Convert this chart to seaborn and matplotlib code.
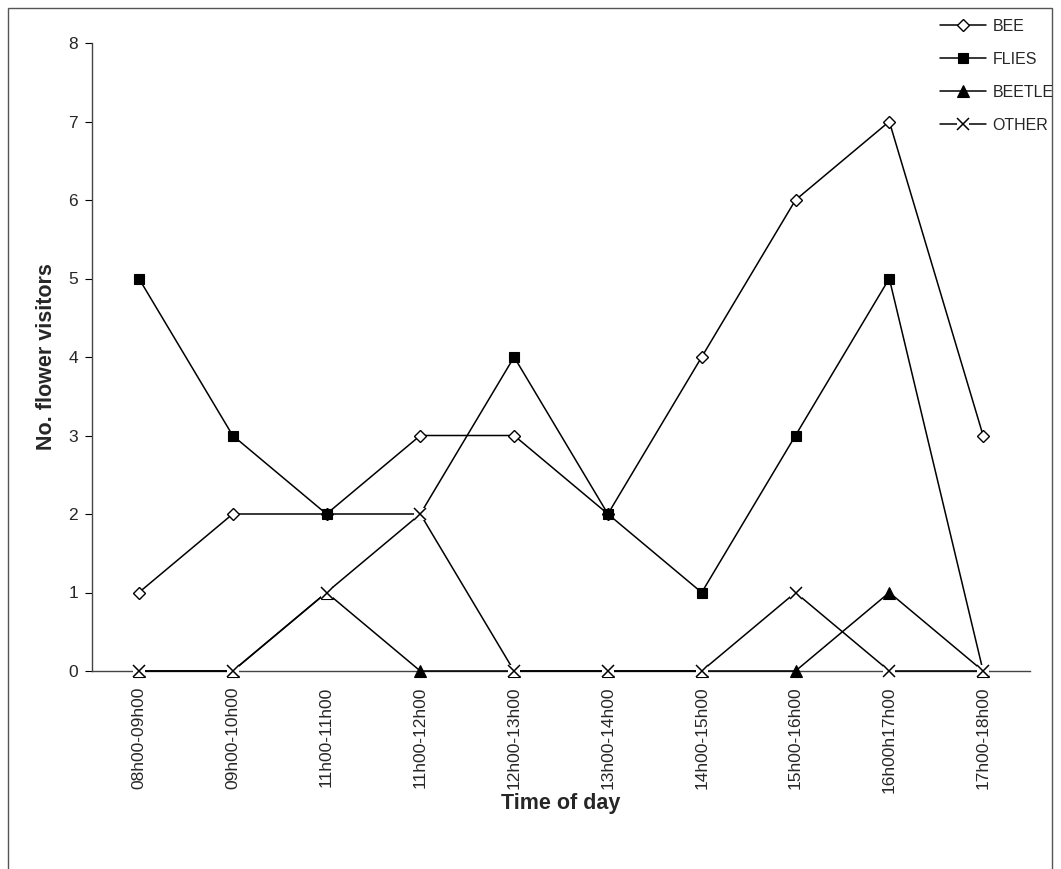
import matplotlib
matplotlib.use("Agg")
import numpy as np
import pandas as pd
import seaborn as sns
import matplotlib.pyplot as plt
from matplotlib.patches import Rectangle
from matplotlib.lines import Line2D

# Data
time_slots = ["08h00-09h00", "09h00-10h00", "11h00-11h00", "11h00-12h00",
              "12h00-13h00", "13h00-14h00", "14h00-15h00", "15h00-16h00",
              "16h00h17h00", "17h00-18h00"]
bee = [1, 2, 2, 3, 3, 2, 4, 6, 7, 3]
flies = [5, 3, 2, 2, 4, 2, 1, 3, 5, 0]
beetle = [0, 0, 1, 0, 0, 0, 0, 0, 1, 0]
other = [0, 0, 1, 2, 0, 0, 0, 1, 0, 0]

series_names = ["BEE", "FLIES", "BEETLE", "OTHER"]
series_values = [bee, flies, beetle, other]

# marker styling per series (Excel-like black & white)
styles = {
    "BEE": dict(marker="D", markersize=5.8, markerfacecolor="white",
                markeredgecolor="black", markeredgewidth=1.0),
    "FLIES": dict(marker="s", markersize=6.8, markerfacecolor="black",
                  markeredgecolor="black", markeredgewidth=0.8),
    "BEETLE": dict(marker="^", markersize=8, markerfacecolor="black",
                   markeredgecolor="black", markeredgewidth=0.8),
    "OTHER": dict(marker="x", markersize=8, markerfacecolor="none",
                  markeredgecolor="black", markeredgewidth=1.1),
}
# Excel's "x" marker has a white box behind it that hides whatever lies below
x_backing = dict(marker="s", markersize=8.5, markerfacecolor="white",
                 markeredgecolor="white", markeredgewidth=0)

sns.set_style("white")
plt.rcParams['font.family'] = ['Liberation Sans', 'DejaVu Sans']

W, H = 1061, 869
fig = plt.figure(figsize=(W / 100, H / 100), dpi=100)
ax = fig.add_axes([92 / W, 198 / H, 938 / W, 628 / H])

positions = np.arange(len(time_slots))
for name, vals in zip(series_names, series_values):
    df = pd.DataFrame({"pos": positions, "count": vals})
    if name == "OTHER":
        sns.lineplot(data=df, x="pos", y="count", ax=ax, color="black",
                     linewidth=1.1, legend=False, clip_on=False, zorder=3)
        sns.lineplot(data=df, x="pos", y="count", ax=ax, color="white",
                     linewidth=0, legend=False, clip_on=False, zorder=4,
                     **x_backing)
        sns.lineplot(data=df, x="pos", y="count", ax=ax, color="black",
                     linewidth=0, legend=False, clip_on=False, zorder=5,
                     **styles[name])
    else:
        sns.lineplot(data=df, x="pos", y="count", ax=ax, color="black",
                     linewidth=1.1, legend=False, clip_on=False, zorder=3,
                     **styles[name])

ax.set_xlim(-0.5, len(time_slots) - 0.5)
ax.set_ylim(0, 8)
ax.set_yticks(range(0, 9))

# category labels at centres, tick marks on boundaries
ax.set_xticks(positions)
ax.set_xticklabels(time_slots, rotation=90, fontsize=12.5)
ax.set_xticks(np.arange(0.5, len(time_slots) - 0.5, 1), minor=True)
ax.tick_params(axis="x", which="major", length=0, pad=11)
ax.tick_params(axis="x", which="minor", length=5, width=0.8, direction="out", color="black")
ax.tick_params(axis="y", length=5, width=0.8, direction="out", color="black",
               labelsize=12.5, pad=5, left=True)

for s in ["top", "right"]:
    ax.spines[s].set_visible(False)
for s in ["left", "bottom"]:
    ax.spines[s].set_color("#444444")
    ax.spines[s].set_linewidth(1.0)
    ax.spines[s].set_zorder(1)

ax.set_xlabel("Time of day", fontsize=15.5, fontweight="bold", labelpad=0)
ax.set_ylabel("No. flower visitors", fontsize=15.5, fontweight="bold", labelpad=8)

# legend
handles = []
for n in series_names:
    if n == "OTHER":
        handles.append((Line2D([], [], color="black", linewidth=1.1),
                        Line2D([], [], linewidth=0, **x_backing),
                        Line2D([], [], linewidth=0, **styles[n])))
    else:
        handles.append(Line2D([], [], color="black", linewidth=1.1, **styles[n]))
fig.legend(handles, series_names, loc="upper left",
           bbox_to_anchor=(940 / W, 1 - 19 / H), frameon=False,
           fontsize=11.5, handlelength=2.9, handletextpad=0.4,
           labelspacing=1.12, borderpad=0, borderaxespad=0)

# outer chart-area border
fig.patches.append(Rectangle((8 / W, -0.05), (1052 - 8) / W, (H - 8) / H + 0.05,
                             transform=fig.transFigure, fill=False,
                             edgecolor="#555555", linewidth=1.0))

fig.savefig("out.png", dpi=100)
